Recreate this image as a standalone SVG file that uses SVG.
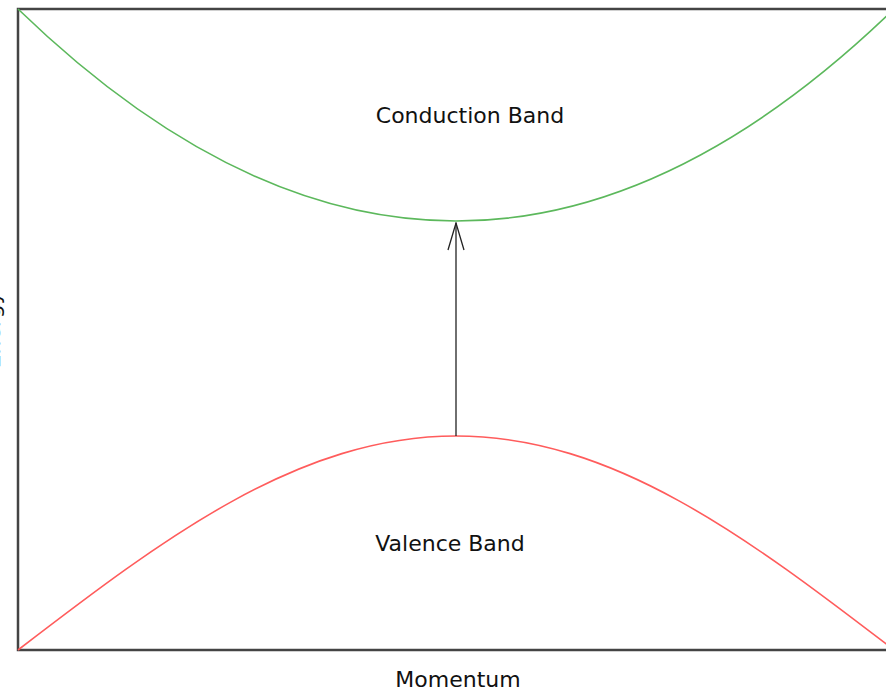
<svg xmlns="http://www.w3.org/2000/svg" width="886" height="693" viewBox="0 0 886 693">
<defs>
<style>
.lbl{font-family:"DejaVu Sans",Verdana,sans-serif;font-size:22px;fill:#111;text-anchor:middle}
.frame{fill:none;stroke:#444;stroke-width:2.5}
</style>
<marker id="open" viewBox="0 0 30 20" refX="29" refY="10" markerWidth="30" markerHeight="20" markerUnits="userSpaceOnUse" orient="auto">
<path d="M2,2 L29,10 L2,18" fill="none" stroke="#222" stroke-width="1.3"/>
</marker>
</defs>
<rect width="886" height="693" fill="#fff"/>
<g id="axes">
<rect class="frame" x="18" y="9" width="876" height="641"/>
<text class="lbl" transform="translate(0,330) rotate(-90)">Energy</text>
<text class="lbl" x="458" y="687">Momentum</text>
</g>
<g id="conduction">
<path d="M18,9 Q456,433 894,9" fill="none" stroke="#5cb85c" stroke-width="1.6"/>
<text class="lbl" x="470" y="123">Conduction Band</text>
</g>
<g id="valence">
<path d="M18,650 C164.4,537.6 298.9,436 456,436 C613.1,436 747.6,537.6 894,650" fill="none" stroke="#ff5c5c" stroke-width="1.6"/>
<text class="lbl" x="450" y="551">Valence Band</text>
</g>
<g id="connectors">
<line x1="456" y1="436" x2="456" y2="223" stroke="#222" stroke-width="1.3" marker-end="url(#open)"/>
</g>
</svg>
